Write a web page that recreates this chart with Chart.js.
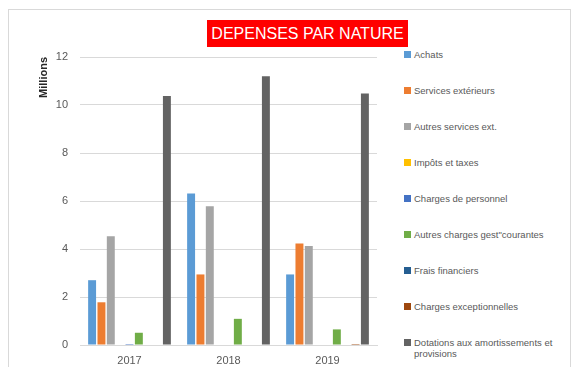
<!DOCTYPE html>
<html>
<head>
<meta charset="utf-8">
<script src="https://cdn.jsdelivr.net/npm/chart.js@4/dist/chart.umd.min.js"></script>
<style>
    body { margin: 0; background: #fff; font-family: 'Liberation Sans', Arial, sans-serif; }
    #frame { position: absolute; left: 8px; top: 9px; width: 563px; height: 370px; border: 1px solid #d9d9d9; box-sizing: border-box; }
    #chartBox { position: absolute; left: 0; top: 0; width: 390px; height: 367px; }
    #title { position: absolute; left: 207px; top: 20px; width: 201px; height: 27px; background: #ff0000; color: #fff;
             font-size: 16px; line-height: 27px; text-align: center; white-space: nowrap; }
    #legend { position: absolute; left: 404px; top: 0; width: 170px; }
    .leg-item { position: absolute; left: 0; display: flex; align-items: flex-start; font-size: 9.5px; color: #595959; line-height: 11px; }
    .leg-box { width: 7px; height: 7px; margin-top: 2px; margin-right: 3px; flex: none; }
    .leg-text { width: 155px; }
</style>
</head>
<body>
<div id="frame"></div>
<div id="chartBox"><canvas id="depChart"></canvas></div>
<div id="title">DEPENSES PAR NATURE</div>
<div id="legend"></div>

<script>
// --- data (millions) ---
const years = ['2017', '2018', '2019'];
const seriesNames = [
    'Achats',
    'Services extérieurs',
    'Autres services ext.',
    'Impôts et taxes',
    'Charges de personnel',
    'Autres charges gest"courantes',
    'Frais financiers',
    'Charges exceptionnelles',
    'Dotations aux amortissements et provisions'
];
const achats = [2.70, 6.31, 2.94];
const servicesExt = [1.78, 2.94, 4.23];
const autresServices = [4.53, 5.78, 4.12];
const impots = [0, 0, 0];
const personnel = [0.04, 0, 0];
const autresCharges = [0.51, 1.09, 0.65];
const fraisFinanciers = [0, 0, 0];
const chargesExc = [0, 0, 0.04];
const dotations = [10.37, 11.20, 10.48];
const yTicks = [0, 2, 4, 6, 8, 10, 12];

const seriesValues = [achats, servicesExt, autresServices, impots, personnel, autresCharges, fraisFinanciers, chargesExc, dotations];
const seriesColors = ['#5b9bd5', '#ed7d31', '#a5a5a5', '#ffc000', '#4472c4', '#70ad47', '#255e91', '#9e480e', '#636363'];

const ctx = document.getElementById('depChart').getContext('2d');
const chart = new Chart(ctx, {
    type: 'bar',
    data: {
        labels: years,
        datasets: seriesNames.map((name, i) => ({
            label: name,
            data: seriesValues[i],
            backgroundColor: seriesColors[i],
            borderWidth: 0,
            categoryPercentage: 0.85,
            barPercentage: 0.85
        }))
    },
    options: {
        responsive: true,
        maintainAspectRatio: false,
        animation: false,
        layout: { padding: { top: 57, right: 13, left: 0, bottom: 0 } },
        plugins: {
            legend: { display: false },
            tooltip: { enabled: false }
        },
        scales: {
            x: {
                grid: { display: false },
                border: { color: '#d9d9d9' },
                ticks: { color: '#595959', font: { size: 11, family: 'Liberation Sans' }, padding: 1 },
                afterFit: (scale) => { scale.height = 22; }
            },
            y: {
                min: 0,
                max: 12,
                afterBuildTicks: (scale) => { scale.ticks = yTicks.map(v => ({ value: v })); },
                grid: { color: '#d9d9d9', drawTicks: false },
                border: { display: false },
                ticks: { color: '#595959', font: { size: 11, family: 'Liberation Sans' }, padding: 12 },
                title: {
                    display: true,
                    text: 'Millions',
                    align: 'end',
                    color: '#262626',
                    font: { size: 11, weight: 'bold', family: 'Liberation Sans' },
                    padding: { top: 37, bottom: 0 }
                },
                afterFit: (scale) => { scale.width = 80; }
            }
        }
    }
});

// HTML legend built from the chart's datasets
const legend = document.getElementById('legend');
chart.data.datasets.forEach((ds, i) => {
    const item = document.createElement('div');
    item.className = 'leg-item';
    item.style.top = (49 + i * 36) + 'px';
    item.innerHTML = `<span class="leg-box" style="background:${ds.backgroundColor}"></span><span class="leg-text">${ds.label}</span>`;
    legend.appendChild(item);
});
</script>
</body>
</html>
